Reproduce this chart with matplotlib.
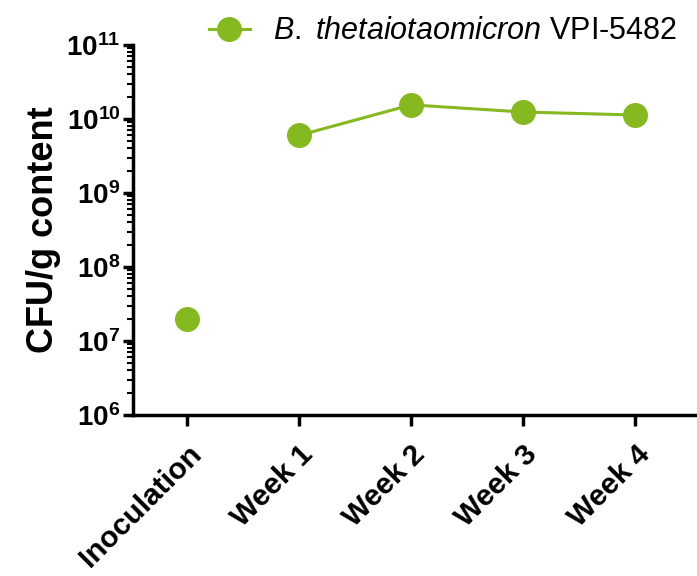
import matplotlib
matplotlib.use("Agg")
import matplotlib.pyplot as plt
import matplotlib.ticker as mticker
import numpy as np

categories = ["Inoculation", "Week 1", "Week 2", "Week 3", "Week 4"]
cfu = [2.0e7, 6.0e9, 1.55e10, 1.24e10, 1.13e10]
yticks = [1e6, 1e7, 1e8, 1e9, 1e10, 1e11]
ytick_labels = [r"$\mathbf{10^{6}}$", r"$\mathbf{10^{7}}$", r"$\mathbf{10^{8}}$",
                r"$\mathbf{10^{9}}$", r"$\mathbf{10^{10}}$", r"$\mathbf{10^{11}}$"]

plt.rcParams["font.family"] = ["Liberation Sans", "DejaVu Sans"]
plt.rcParams["mathtext.fontset"] = "custom"
plt.rcParams["mathtext.rm"] = "Liberation Sans"
plt.rcParams["mathtext.bf"] = "Liberation Sans:bold"
plt.rcParams["mathtext.it"] = "Liberation Sans:italic"

green = "#86B820"
fig = plt.figure(figsize=(6.97, 5.76), dpi=100)
ax = fig.add_axes([0.191, 0.2795, 0.809, 0.6425])

x = np.arange(len(categories))
ax.plot(x[0:1], cfu[0:1], linestyle="none", marker="o", markersize=17, color=green)
ax.plot(x[1:], cfu[1:], linestyle="-", linewidth=2.2, marker="o", markersize=17, color=green)

ax.set_yscale("log")
ax.set_ylim(1e6, 1e11)
ax.set_xlim(-0.48, 4.55)
ax.set_yticks(yticks)
ax.set_yticklabels(ytick_labels)
ax.yaxis.set_minor_locator(mticker.LogLocator(base=10, subs=np.arange(2, 10)))
ax.yaxis.set_minor_formatter(mticker.NullFormatter())
ax.set_xticks(x)
ax.set_xticklabels(categories, rotation=45, ha="right", rotation_mode="anchor",
                   fontsize=21.5, fontweight="bold")

for s in ["top", "right"]:
    ax.spines[s].set_visible(False)
for s in ["left", "bottom"]:
    ax.spines[s].set_linewidth(2.5)
ax.tick_params(axis="y", which="major", length=7, width=2.5, labelsize=20, pad=2)
ax.tick_params(axis="y", which="minor", length=4, width=1.5)
ax.tick_params(axis="x", which="major", length=8, width=2.5, pad=10)

ax.set_ylabel("CFU/g content", fontsize=26, fontweight="bold", labelpad=4)

leg = ax.legend([ax.lines[1]],
                [r"$\mathit{B.\ thetaiotaomicron}$ VPI-5482"],
                loc="upper left", bbox_to_anchor=(0.112, 1.11), frameon=False,
                fontsize=22, handlelength=1.35, handletextpad=0.75, borderaxespad=0)

fig.savefig("out.png", dpi=100)
